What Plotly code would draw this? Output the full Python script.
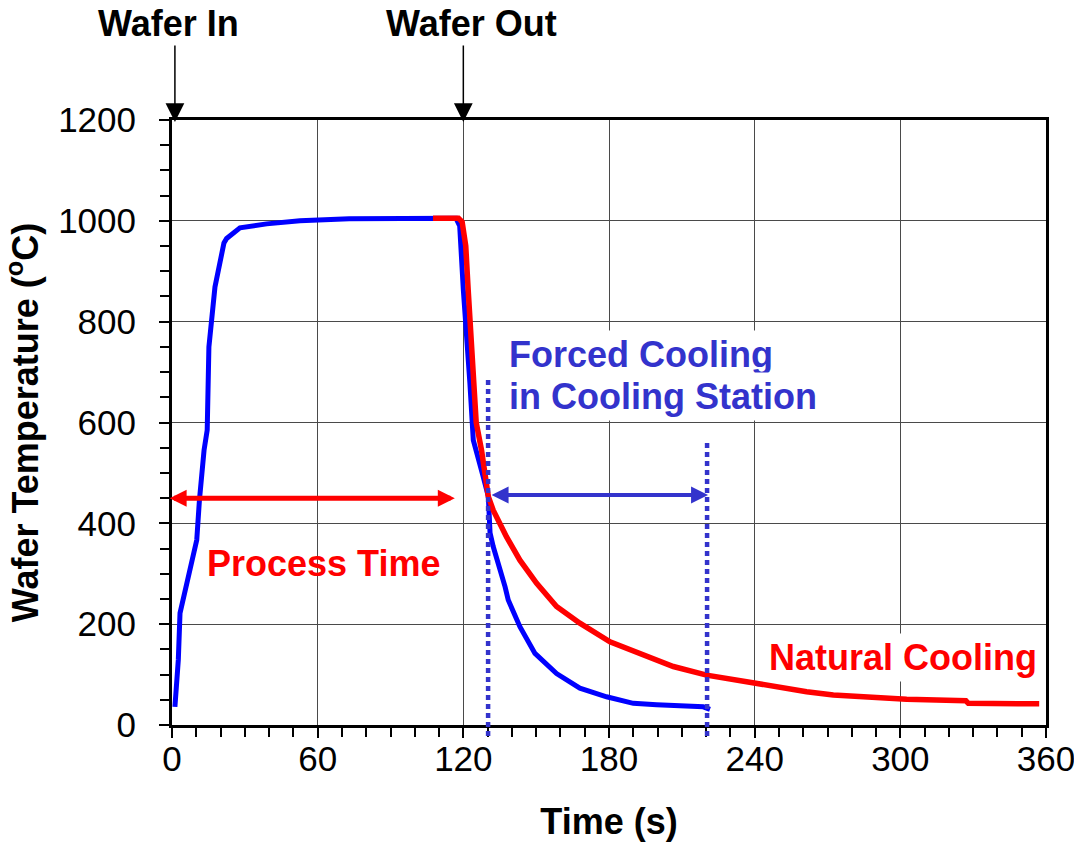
import plotly.graph_objects as go

# Wafer temperature profile: heat-up, process plateau, forced cooling (cooling station)
forced_t = [1.2, 2.6, 3.3, 6.7, 10.2, 11.3, 13.2, 14.5, 15.2, 17.7, 21.4, 22.5, 28, 39, 52.7, 73,
            117, 118.5, 120, 122.7, 124.1, 128.2, 130.3, 131, 132.3, 137.2, 138.5, 143.3, 149.5,
            158.4, 168, 179, 190, 199.6, 218.8, 221.6]
forced_T = [36, 129, 222, 294, 367, 446, 545, 585, 750, 869, 956, 965, 986, 994, 1000, 1004,
            1005, 990, 863, 678, 565, 492, 453, 381, 354, 274, 248, 195, 142,
            102, 73, 56, 43, 40, 36, 31]

# Natural cooling after the wafer leaves the chamber
natural_t = [107.5, 118, 119.5, 121, 122, 124.8, 125.3, 127.5, 130.3, 132.3, 137.8, 143.3, 150.2,
             158.4, 168, 180.4, 192.7, 206.5, 220.2, 225.7, 234, 240.8, 251.8, 261.4, 272.4,
             284.7, 302.6, 327, 328, 357.2]
natural_T = [1005, 1005, 998, 950, 863, 664, 600, 545, 453, 426, 373, 327, 281,
             235, 202, 165, 142, 116, 99, 94.5, 88, 83, 73, 66, 59.5,
             55, 51, 48, 43, 42]

x_ticks = [0, 60, 120, 180, 240, 300, 360]
y_ticks = [0, 200, 400, 600, 800, 1000, 1200]

# Event markers and spans (seconds / degC)
wafer_in_t, wafer_out_t = 1.2, 120
process_span = (-1.6, 116.5, 450)
station_span = (131, 220.8, 456)
station_start, station_end = 130.2, 220.4
station_start_top, station_end_top = 688, 565

FONT = "Liberation Sans, Arial, sans-serif"
RED = "#FF0000"
BLUE = "#0000FF"
LABEL_BLUE = "#3333CC"

X0, X1 = 0, 360
Y0, Y1 = 0, 1200

fig = go.Figure()
fig.add_trace(go.Scatter(x=forced_t, y=forced_T, mode="lines",
                         line=dict(color=BLUE, width=5), showlegend=False, hoverinfo="skip"))
fig.add_trace(go.Scatter(x=natural_t, y=natural_T, mode="lines",
                         line=dict(color=RED, width=5.5), showlegend=False, hoverinfo="skip"))


def paper_y(T):
    return (T - Y0) / (Y1 - Y0)


def paper_x(t):
    return (t - X0) / (X1 - X0)


# dotted markers for the cooling-station window
for t, top in [(station_start, station_start_top), (station_end, station_end_top)]:
    fig.add_shape(type="line", xref="x", yref="paper", x0=t, x1=t, y0=-0.018, y1=paper_y(top),
                  line=dict(color=LABEL_BLUE, width=4.5, dash="5px,4px"))

# double-headed span arrows
fig.add_annotation(x=process_span[1], y=process_span[2], ax=process_span[0], ay=process_span[2],
                   xref="x", yref="y", axref="x", ayref="y", text="", showarrow=True,
                   arrowside="end+start", arrowhead=2, startarrowhead=2,
                   arrowsize=0.68, startarrowsize=0.68, arrowwidth=5, arrowcolor=RED)
fig.add_annotation(x=station_span[1], y=station_span[2], ax=station_span[0], ay=station_span[2],
                   xref="x", yref="y", axref="x", ayref="y", text="", showarrow=True,
                   arrowside="end+start", arrowhead=2, startarrowhead=2,
                   arrowsize=0.85, startarrowsize=0.85, arrowwidth=4, arrowcolor=LABEL_BLUE)

# wafer in / out arrows above the plot
for t in [wafer_in_t, wafer_out_t]:
    fig.add_annotation(x=t, y=1196, xref="x", yref="y", ax=0, ay=-78, text="", showarrow=True,
                       arrowhead=2, arrowsize=2.5, arrowwidth=1.5, arrowcolor="black")


def label(text, x, y, color, xanchor="center", bg=None, ref="x"):
    xref, yref = ("x", "y") if ref == "x" else ("paper", "paper")
    fig.add_annotation(x=x, y=y, xref=xref, yref=yref, text=f"<b>{text}</b>", showarrow=False,
                       xanchor=xanchor, yanchor="middle",
                       font=dict(family=FONT, size=36, color=color),
                       bgcolor=bg, borderpad=3)


label("Wafer In", paper_x(-1.6), paper_y(1391), "black", ref="paper")
label("Wafer Out", paper_x(123.5), paper_y(1391), "black", ref="paper")
label("Process Time", 62.6, 320, RED)
label("Forced Cooling", 137.2, 735, LABEL_BLUE, xanchor="left", bg="white")
label("in Cooling Station", 137.2, 651, LABEL_BLUE, xanchor="left", bg="white")
label("Natural Cooling", 301, 133, RED, bg="white")

axis_common = dict(
    showline=True, linewidth=3, linecolor="black", mirror=True,
    ticks="outside", ticklen=10, tickwidth=1.5, tickcolor="black",
    showgrid=True, gridcolor="#4a4a4a", gridwidth=1, zeroline=False,
    tickfont=dict(family=FONT, size=35, color="black"),
    ticklabeloverflow="allow", automargin=False,
)

fig.update_xaxes(range=[X0, X1], tickvals=x_ticks, ticktext=[str(v) for v in x_ticks],
                 minor=dict(dtick=10, ticks="outside", ticklen=9, tickwidth=1.5,
                            tickcolor="black", showgrid=False),
                 ticklabelstandoff=-9,
                 title=dict(text="<b>Time (s)</b>", font=dict(family=FONT, size=36, color="black"),
                            standoff=33),
                 **axis_common)
fig.update_yaxes(range=[Y0, Y1], tickvals=y_ticks, ticktext=[str(v) for v in y_ticks],
                 minor=dict(dtick=50, ticks="outside", ticklen=9, tickwidth=1.5,
                            tickcolor="black", showgrid=False),
                 ticklabelstandoff=16,
                 title=dict(text="<b>Wafer Temperature (<sup>o</sup>C)</b>",
                            font=dict(family=FONT, size=36, color="black"), standoff=20),
                 **axis_common)

fig.update_layout(
    width=1074, height=842, autosize=False,
    margin=dict(l=172, r=28, t=120, b=117),
    paper_bgcolor="white", plot_bgcolor="white",
    font=dict(family=FONT, color="black"),
)

fig.write_html("out.html")
